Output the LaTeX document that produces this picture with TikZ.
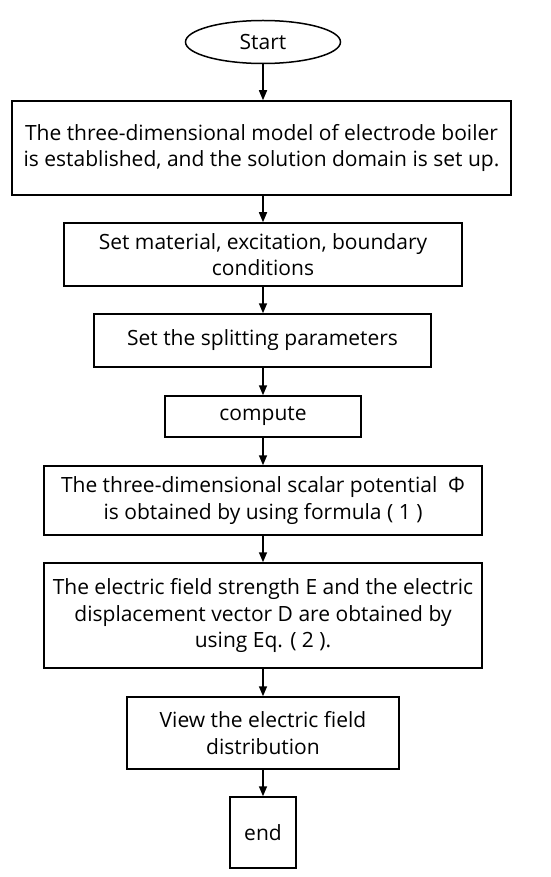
\documentclass[tikz,border=0pt]{standalone}
\usepackage{fontspec}
\setmainfont{Open Sans}
\usetikzlibrary{arrows.meta,shapes.geometric}

\begin{document}
\begin{tikzpicture}[x=1pt, y=-1pt, >={Triangle[length=10pt,width=8pt]},
  stepbox/.style={draw, line width=1.5pt, align=center, inner sep=0pt, font=\fontsize{21}{26.5}\selectfont},
  flow/.style={->, line width=1.5pt}]
\useasboundingbox[fill=white] (0,0) rectangle (550,877);
\node[stepbox, ellipse, minimum width=155pt, minimum height=43pt] (start) at (263,42) {Start};
\node[stepbox, minimum width=499pt, minimum height=94pt] (model) at (261.5,148) {The three-dimensional model of electrode boiler\\is established, and the solution domain is set up.};
\node[stepbox, minimum width=398pt, minimum height=63pt] (material) at (263,254.5) {Set material, excitation, boundary\\conditions};
\node[stepbox, minimum width=337pt, minimum height=53pt] (splitting) at (262.5,340.5) {Set the splitting parameters};
\node[stepbox, minimum width=196pt, minimum height=41pt] (compute) at (263,416.5) {compute};
\node[stepbox, minimum width=438pt, minimum height=69pt] (potential) at (263,500.5) {The three-dimensional scalar potential\ \ Φ\\is obtained by using formula ( 1 )};
\node[stepbox, minimum width=438pt, minimum height=105pt] (field) at (263,615.5) {The electric field strength E and the electric\\displacement vector D are obtained by\\using Eq. ( 2 ).};
\node[stepbox, minimum width=272pt, minimum height=72pt] (view) at (263,733) {View the electric field\\distribution};
\node[stepbox, minimum width=66pt, minimum height=71pt] (finish) at (263,832.5) {end};
\draw[flow] (start) -- (start |- model.north);
\draw[flow] (model.south -| material) -- (material);
\draw[flow] (material) -- (material |- splitting.north);
\draw[flow] (splitting.south -| compute) -- (compute);
\draw[flow] (compute) -- (potential);
\draw[flow] (potential) -- (field);
\draw[flow] (field) -- (view);
\draw[flow] (view) -- (finish);
\end{tikzpicture}
\end{document}
